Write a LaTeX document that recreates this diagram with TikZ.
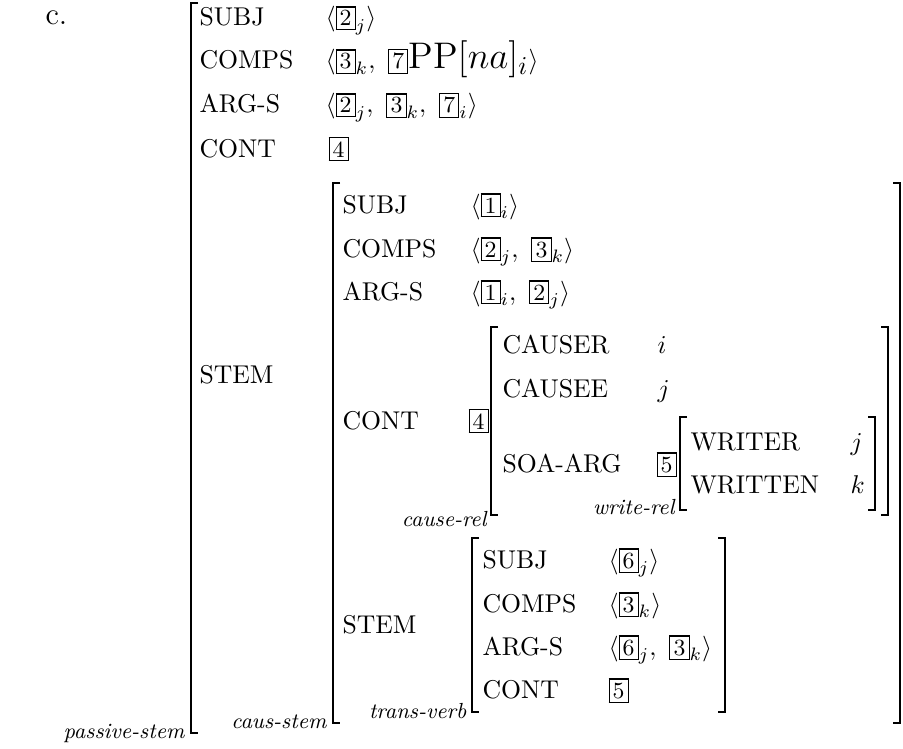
\documentclass[tikz,border=0pt]{standalone}
\usepackage{fontspec}
\usepackage{tikz}

\newcommand{\boxtag}[1]{{\setlength{\fboxsep}{1.2pt}\fbox{\small #1}}}

\begin{document}
\begin{tikzpicture}[x=0.389pt, y=-0.389pt,
        feat/.style={anchor=base west, inner sep=0pt},
        sortname/.style={anchor=base east, inner sep=0pt,
            font=\fontsize{8.5}{10}\selectfont\itshape},
        brack/.style={line width=0.8pt}]
        \useasboundingbox (0,0) rectangle (903,748);

        % Example label
        \node [feat, font=\large] (exc) at (45,25) {c.};

        % Passive stem brackets
        \draw [brack] (198,3) -- (191,3) -- (191,733) -- (198,733);
        \node [sortname] (pasSort) at (185,738) {passive-stem};

        % Passive stem features
        \node [feat] (pasSubj) at (199,26) {SUBJ};
        \node [feat] (pasComps) at (199,69) {COMPS};
        \node [feat] (pasArgs) at (199,113) {ARG-S};
        \node [feat] (pasCont) at (199,157) {CONT};
        \node [feat] (pasStem) at (199,383) {STEM};

        % Passive stem values
        \node [feat] (pasSubjV) at (325,26) {$\langle\boxtag{2}_j\rangle$};
        \node [feat] (pasCompsV) at (325,69)
            {$\langle\boxtag{3}_k,\ \boxtag{7}\mbox{\Large PP$[na]_i$}\rangle$};
        \node [feat] (pasArgsV) at (325,113)
            {$\langle\boxtag{2}_j,\ \boxtag{3}_k,\ \boxtag{7}_i\rangle$};
        \node [feat] (pasContV) at (328,157) {\boxtag{4}};

        % Caus stem brackets
        \draw [brack] (340,183) -- (333,183) -- (333,723) -- (340,723);
        \draw [brack] (893,183) -- (900,183) -- (900,723) -- (893,723);
        \node [sortname] (cauSort) at (327,728) {caus-stem};

        % Caus stem features
        \node [feat] (cauSubj) at (342,213) {SUBJ};
        \node [feat] (cauComps) at (342,257) {COMPS};
        \node [feat] (cauArgs) at (342,300) {ARG-S};
        \node [feat] (cauCont) at (342,429) {CONT};
        \node [feat] (cauStem) at (342,633) {STEM};

        % Caus stem values
        \node [feat] (cauSubjV) at (470,213) {$\langle\boxtag{1}_i\rangle$};
        \node [feat] (cauCompsV) at (470,257)
            {$\langle\boxtag{2}_j,\ \boxtag{3}_k\rangle$};
        \node [feat] (cauArgsV) at (470,300)
            {$\langle\boxtag{1}_i,\ \boxtag{2}_j\rangle$};
        \node [feat] (cauContV) at (468,429) {\boxtag{4}};

        % Cause rel brackets
        \draw [brack] (498,327) -- (491,327) -- (491,515) -- (498,515);
        \draw [brack] (881,327) -- (888,327) -- (888,515) -- (881,515);
        \node [sortname] (relSort) at (487,526) {cause-rel};

        % Cause rel features and values
        \node [feat] (relCauser) at (502,353) {CAUSER};
        \node [feat] (relCausee) at (502,397) {CAUSEE};
        \node [feat] (relSoa) at (502,472) {SOA-ARG};
        \node [feat] (relCauserV) at (657,353) {$i$};
        \node [feat] (relCauseeV) at (657,397) {$j$};
        \node [feat] (relSoaV) at (656,472) {\boxtag{5}};

        % Write rel brackets
        \draw [brack] (687,417) -- (680,417) -- (680,510) -- (687,510);
        \draw [brack] (868,417) -- (875,417) -- (875,510) -- (868,510);
        \node [sortname] (wrSort) at (675,514) {write-rel};

        % Write rel features and values
        \node [feat] (wrWriter) at (690,450) {WRITER};
        \node [feat] (wrWritten) at (690,493) {WRITTEN};
        \node [feat] (wrWriterV) at (850,450) {$j$};
        \node [feat] (wrWrittenV) at (850,493) {$k$};

        % Trans verb brackets
        \draw [brack] (479,538) -- (472,538) -- (472,712) -- (479,712);
        \draw [brack] (718,538) -- (725,538) -- (725,712) -- (718,712);
        \node [sortname] (trSort) at (467,718) {trans-verb};

        % Trans verb features
        \node [feat] (trSubj) at (482,568) {SUBJ};
        \node [feat] (trComps) at (482,612) {COMPS};
        \node [feat] (trArgs) at (482,655) {ARG-S};
        \node [feat] (trCont) at (482,698) {CONT};

        % Trans verb values
        \node [feat] (trSubjV) at (608,568) {$\langle\boxtag{6}_j\rangle$};
        \node [feat] (trCompsV) at (608,612) {$\langle\boxtag{3}_k\rangle$};
        \node [feat] (trArgsV) at (608,655)
            {$\langle\boxtag{6}_j,\ \boxtag{3}_k\rangle$};
        \node [feat] (trContV) at (608,698) {\boxtag{5}};
    \end{tikzpicture}
\end{document}
